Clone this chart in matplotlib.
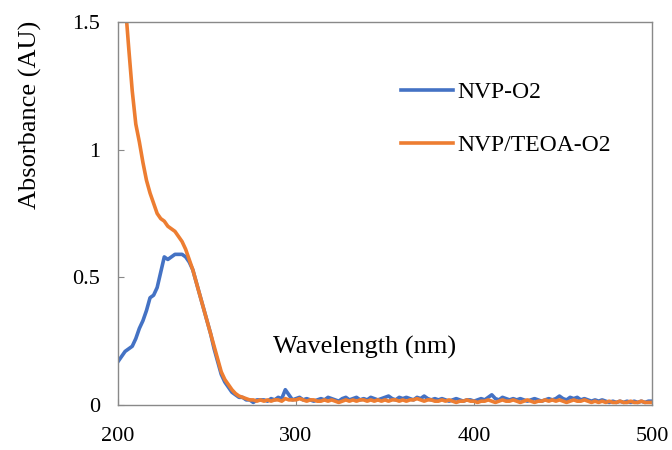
import numpy as np
import matplotlib
matplotlib.use("Agg")
from matplotlib import pyplot as plt

# wavelength grid (nm), every 2 nm
wavelength = np.arange(200, 501, 2)

nvp_o2 = [
    .17, .19, .21, .22, .23, .26, .30, .33, .37, .42,
    .43, .46, .52, .58, .57, .58, .59, .59, .59, .58,
    .56, .53, .48, .43, .38, .33, .28, .22, .17, .12,
    .09, .07, .05, .04, .03, .03, .02, .02, .01, .02,
    .02, .02, .015, .025, .02, .03, .025, .06, .04, .02,
    .025, .03, .02, .025, .02, .015, .02, .025, .02, .03,
    .025, .02, .015, .025, .03, .02, .025, .03, .02, .025,
    .02, .03, .025, .02, .025, .03, .035, .025, .02, .03,
    .025, .03, .025, .02, .03, .025, .035, .025, .02, .025,
    .02, .025, .02, .015, .02, .025, .02, .015, .02, .02,
    .015, .02, .025, .02, .03, .04, .025, .02, .03, .025,
    .02, .025, .02, .025, .02, .015, .02, .025, .02, .015,
    .02, .025, .02, .025, .035, .025, .02, .03, .025, .03,
    .02, .025, .02, .015, .02, .015, .02, .015, .01, .015,
    .01, .015, .01, .015, .01, .015, .01, .015, .01, .015,
    .015,
]

nvp_teoa_o2 = [
    1.85, 1.72, 1.58, 1.40, 1.23, 1.10, 1.03, .95, .88, .83,
    .79, .75, .73, .72, .70, .69, .68, .66, .64, .61,
    .57, .53, .48, .43, .38, .33, .28, .23, .18, .13,
    .10, .08, .06, .045, .035, .03, .025, .02, .02, .015,
    .02, .015, .02, .015, .02, .02, .015, .025, .02, .02,
    .02, .025, .02, .015, .02, .02, .015, .015, .02, .015,
    .02, .015, .01, .015, .02, .015, .02, .015, .02, .02,
    .015, .02, .015, .02, .015, .02, .015, .02, .02, .015,
    .02, .015, .02, .02, .025, .02, .015, .02, .02, .015,
    .015, .02, .015, .02, .015, .01, .015, .015, .02, .015,
    .015, .01, .015, .015, .02, .015, .01, .015, .02, .015,
    .015, .02, .015, .01, .015, .02, .015, .01, .015, .015,
    .02, .015, .02, .015, .02, .015, .01, .015, .02, .015,
    .015, .02, .015, .01, .015, .01, .015, .01, .015, .01,
    .01, .015, .01, .01, .015, .01, .01, .015, .01, .01,
    .01,
]

xticks = [200, 300, 400, 500]
yticks = [0, 0.5, 1, 1.5]
ytick_labels = ["0", "0.5", "1", "1.5"]

plt.rcParams['font.family'] = ['Liberation Serif', 'DejaVu Serif']

fig = plt.figure(figsize=(6.72, 4.5), dpi=100)
ax = fig.add_axes([118/672, 45/450, 534/672, 383/450])

ax.plot(wavelength, nvp_o2, color="#4472C4", lw=2.6, label="NVP-O2")
ax.plot(wavelength, nvp_teoa_o2, color="#ED7D31", lw=2.6, label="NVP/TEOA-O2")

ax.set_xlim(200, 500)
ax.set_ylim(0, 1.5)
ax.set_xticks(xticks)
ax.set_yticks(yticks)
ax.set_yticklabels(ytick_labels)
ax.tick_params(direction="in", length=4, color="#898989", labelsize=16)
ax.tick_params(axis="x", pad=16)
ax.tick_params(axis="y", pad=13)
for s in ax.spines.values():
    s.set_color("#898989")
    s.set_linewidth(1)

ax.text(0.4625, 0.151, "Wavelength (nm)", transform=ax.transAxes,
        ha="center", va="center", fontsize=19)
fig.text(0.045, 0.744, "Absorbance (AU)", rotation=90, ha="center", va="center", fontsize=19)

ax.legend(loc="upper left", bbox_to_anchor=(0.49, 0.9), frameon=False, fontsize=17,
          handlelength=2.2, handletextpad=0.2, labelspacing=1.35)

fig.savefig("out.png", dpi=100)
